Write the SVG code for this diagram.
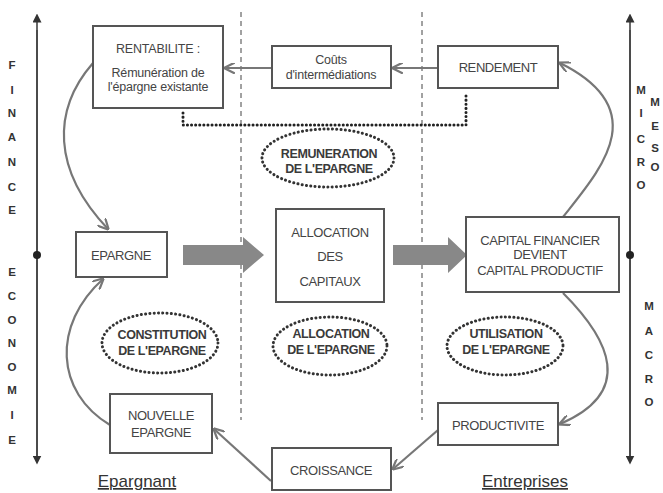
<svg xmlns="http://www.w3.org/2000/svg" width="663" height="493" viewBox="0 0 663 493">
<defs>
<style>
.box{fill:#fff;stroke:#555;stroke-width:2}
.t{font-family:"Liberation Sans",Arial,sans-serif;font-size:13px;fill:#444;text-anchor:middle;letter-spacing:-0.4px}
.tl{font-family:"Liberation Sans",Arial,sans-serif;font-size:12.5px;fill:#444;text-anchor:middle;letter-spacing:-0.2px}
.e{fill:none;stroke:#333;stroke-width:3;stroke-dasharray:0.1 4.2;stroke-linecap:round}
.et{font-family:"Liberation Sans",Arial,sans-serif;font-size:12.5px;font-weight:bold;fill:#3a3a3a;text-anchor:middle;letter-spacing:-0.4px}
.ax{font-family:"Liberation Sans",Arial,sans-serif;font-size:11.5px;font-weight:bold;fill:#333;text-anchor:middle}
.lab{font-family:"Liberation Sans",Arial,sans-serif;font-size:17px;fill:#333;text-anchor:middle;text-decoration:underline}
.c{fill:none;stroke:#777;stroke-width:2.2}
.axis{stroke:#444;stroke-width:1.6;fill:none}
.dash{stroke:#444;stroke-width:1;stroke-dasharray:5 4;fill:none}
.dot{stroke:#222;stroke-width:3;stroke-dasharray:0.1 4;stroke-linecap:round;fill:none}
.big{fill:#888}
</style>
<marker id="ah" viewBox="0 0 10 10" refX="9" refY="5" markerWidth="11" markerHeight="11" markerUnits="userSpaceOnUse" orient="auto">
<path d="M0,0 L10,5 L0,10" fill="none" stroke="#777" stroke-width="2"/>
</marker>
<marker id="axh" viewBox="0 0 10 10" refX="5" refY="5" markerWidth="9" markerHeight="9" markerUnits="userSpaceOnUse" orient="auto">
<path d="M0,0 L10,5 L0,10 Z" fill="#333"/>
</marker>
</defs>
<rect width="663" height="493" fill="#fff"/>

<g id="axes">
<line class="axis" x1="37" y1="460" x2="37" y2="18" marker-end="url(#axh)"/>
<line class="axis" x1="37" y1="30" x2="37" y2="460" marker-end="url(#axh)"/>
<circle cx="37" cy="255" r="4" fill="#222"/>
<line class="axis" x1="630" y1="460" x2="630" y2="18" marker-end="url(#axh)"/>
<line class="axis" x1="630" y1="30" x2="630" y2="460" marker-end="url(#axh)"/>
<circle cx="630" cy="255" r="4" fill="#222"/>
<text class="ax" x="12" y="69">F</text>
<text class="ax" x="12" y="94">I</text>
<text class="ax" x="12" y="117">N</text>
<text class="ax" x="12" y="141">A</text>
<text class="ax" x="12" y="166">N</text>
<text class="ax" x="12" y="191">C</text>
<text class="ax" x="12" y="214">E</text>
<text class="ax" x="12" y="276">E</text>
<text class="ax" x="12" y="300">C</text>
<text class="ax" x="12" y="324">O</text>
<text class="ax" x="12" y="347">N</text>
<text class="ax" x="12" y="371">O</text>
<text class="ax" x="12" y="394">M</text>
<text class="ax" x="12" y="419">I</text>
<text class="ax" x="12" y="444">E</text>
<text class="ax" x="641" y="94">M</text>
<text class="ax" x="641" y="117">I</text>
<text class="ax" x="641" y="143">C</text>
<text class="ax" x="641" y="166">R</text>
<text class="ax" x="641" y="189">O</text>
<text class="ax" x="655" y="106">M</text>
<text class="ax" x="655" y="130">E</text>
<text class="ax" x="655" y="152">S</text>
<text class="ax" x="655" y="171">O</text>
<text class="ax" x="649" y="310">M</text>
<text class="ax" x="649" y="335">A</text>
<text class="ax" x="649" y="359">C</text>
<text class="ax" x="649" y="383">R</text>
<text class="ax" x="649" y="406">O</text>
</g>

<g id="separators">
<line class="dash" x1="241" y1="12" x2="241" y2="420"/>
<line class="dash" x1="422" y1="12" x2="422" y2="420"/>
</g>

<g id="connectors">
<path class="dot" d="M183,113 L183,125 L466,125 L466,92"/>
<line class="c" x1="438" y1="68" x2="393" y2="68" marker-end="url(#ah)"/>
<line class="c" x1="272" y1="68" x2="225" y2="68" marker-end="url(#ah)"/>
<path class="c" d="M93,63 C52,110 52,170 108,229" marker-end="url(#ah)"/>
<path class="c" d="M110,425 C55,392 52,325 103,279" marker-end="url(#ah)"/>
<path class="c" d="M563,217 C600,170 655,110 560,63" marker-end="url(#ah)"/>
<path class="c" d="M563,293 C610,340 635,392 560,424" marker-end="url(#ah)"/>
<line class="c" x1="438" y1="430" x2="393" y2="469" marker-end="url(#ah)"/>
<line class="c" x1="271" y1="481" x2="214" y2="429" marker-end="url(#ah)"/>
<path class="big" d="M183,245 L243,245 L243,237 L264,255 L243,273 L243,265 L183,265 Z"/>
<path class="big" d="M393,245 L448,245 L448,237 L467,255 L448,273 L448,265 L393,265 Z"/>
</g>

<g id="rentabilite">
<rect class="box" x="93" y="26" width="130" height="82"/>
<text class="tl" x="158" y="53">RENTABILITE :</text>
<text class="tl" x="158" y="77">Rémunération de</text>
<text class="tl" x="158" y="91">l'épargne existante</text>
</g>
<g id="couts">
<rect class="box" x="272" y="46" width="119" height="42"/>
<text class="tl" x="331" y="64">Coûts</text>
<text class="tl" x="331" y="79">d'intermédiations</text>
</g>
<g id="rendement">
<rect class="box" x="438" y="46" width="120" height="42"/>
<text class="t" x="498" y="72">RENDEMENT</text>
</g>
<g id="remuneration">
<ellipse class="e" cx="328" cy="158" rx="66" ry="29"/>
<text class="et" x="329" y="158">REMUNERATION</text>
<text class="et" x="329" y="173">DE L'EPARGNE</text>
</g>
<g id="epargne">
<rect class="box" x="76" y="232" width="91" height="45"/>
<text class="t" x="121" y="260">EPARGNE</text>
</g>
<g id="allocation-capitaux">
<rect class="box" x="276" y="209" width="108" height="93"/>
<text class="t" x="330" y="237">ALLOCATION</text>
<text class="t" x="330" y="261">DES</text>
<text class="t" x="330" y="286">CAPITAUX</text>
</g>
<g id="capital">
<rect class="box" x="466" y="217" width="153" height="75"/>
<text class="t" x="540" y="245">CAPITAL FINANCIER</text>
<text class="t" x="540" y="259">DEVIENT</text>
<text class="t" x="540" y="275">CAPITAL PRODUCTIF</text>
</g>
<g id="constitution">
<ellipse class="e" cx="160" cy="343" rx="58" ry="30"/>
<text class="et" x="162" y="339">CONSTITUTION</text>
<text class="et" x="162" y="355">DE L'EPARGNE</text>
</g>
<g id="allocation-epargne">
<ellipse class="e" cx="330" cy="346" rx="57" ry="29"/>
<text class="et" x="331" y="338">ALLOCATION</text>
<text class="et" x="331" y="354">DE L'EPARGNE</text>
</g>
<g id="utilisation">
<ellipse class="e" cx="505" cy="346" rx="58" ry="29"/>
<text class="et" x="506" y="338">UTILISATION</text>
<text class="et" x="506" y="354">DE L'EPARGNE</text>
</g>
<g id="nouvelle-epargne">
<rect class="box" x="110" y="394" width="102" height="59"/>
<text class="t" x="161" y="420">NOUVELLE</text>
<text class="t" x="161" y="437">EPARGNE</text>
</g>
<g id="croissance">
<rect class="box" x="272" y="448" width="119" height="42"/>
<text class="t" x="331" y="475">CROISSANCE</text>
</g>
<g id="productivite">
<rect class="box" x="438" y="403" width="120" height="42"/>
<text class="t" x="498" y="430">PRODUCTIVITE</text>
</g>
<g id="labels">
<text class="lab" x="137" y="487">Epargnant</text>
<text class="lab" x="525" y="487">Entreprises</text>
</g>
</svg>
